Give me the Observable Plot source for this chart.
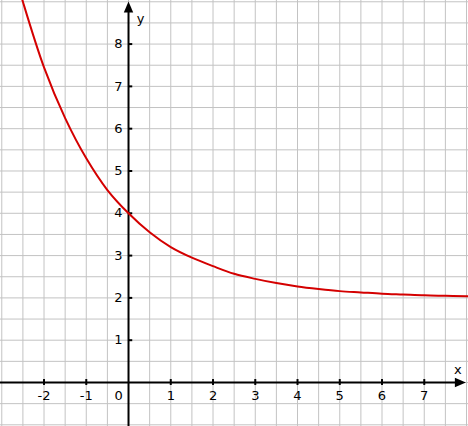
<!DOCTYPE html>
<html><head><meta charset="utf-8">
<script src="https://cdn.jsdelivr.net/npm/d3@7"></script>
<script src="https://cdn.jsdelivr.net/npm/@observablehq/plot@0.6"></script>
<style>html,body{margin:0;padding:0;background:#fff;overflow:hidden} svg{display:block}</style>
</head><body><div id="chart"></div>
<script>
// Curve values
const curveX = [-2.6, -2.5, -2, -1.5, -1, -0.5, 0, 0.5, 1, 1.5, 2, 2.5, 3, 3.5, 4, 4.5, 5, 5.5, 6, 6.5, 7, 7.5, 8, 8.1];
const curveY = [9.35, 9.0, 7.45, 6.25, 5.3, 4.55, 4.0, 3.55, 3.2, 2.95, 2.75, 2.57, 2.45, 2.35, 2.27, 2.21, 2.16, 2.13, 2.1, 2.08, 2.06, 2.05, 2.04, 2.04];
const xTickValues = [-2, -1, 1, 2, 3, 4, 5, 6, 7];
const yTickValues = [1, 2, 3, 4, 5, 6, 7, 8];
const gridXValues = [-3, -2.5, -2, -1.5, -1, -0.5, 0, 0.5, 1, 1.5, 2, 2.5, 3, 3.5, 4, 4.5, 5, 5.5, 6, 6.5, 7, 7.5, 8];
const gridYValues = [-1, -0.5, 0, 0.5, 1, 1.5, 2, 2.5, 3, 3.5, 4, 4.5, 5, 5.5, 6, 6.5, 7, 7.5, 8, 8.5, 9];
const xDomain = [-3.03, 8.047];
const yDomain = [-1.04, 9.03];
const xAxisEnd = 7.985;
const yAxisEnd = 9.005;

const curve = curveX.map((x, i) => ({x, y: curveY[i]}));

const arrowHead = {
  draw(ctx) {
    ctx.moveTo(0, 0);
    ctx.lineTo(-11, -4.7);
    ctx.lineTo(-11, 4.7);
    ctx.closePath();
  }
};

const font = "DejaVu Sans, Verdana, sans-serif";

const chart = Plot.plot({
  width: 468,
  height: 426,
  margin: 0,
  x: {domain: xDomain, axis: null},
  y: {domain: yDomain, axis: null},
  style: {background: "#fff", fontFamily: font},
  marks: [
    Plot.ruleX(gridXValues, {x: d => d, stroke: "#c3c3c3", strokeWidth: 1}),
    Plot.ruleY(gridYValues, {y: d => d, stroke: "#c3c3c3", strokeWidth: 1}),
    Plot.ruleY([0], {y: d => d, x1: xDomain[0], x2: xAxisEnd - 0.1, stroke: "#000", strokeWidth: 2}),
    Plot.ruleX([0], {x: d => d, y1: yDomain[0], y2: yAxisEnd - 0.1, stroke: "#000", strokeWidth: 2}),
    Plot.ruleX(xTickValues, {x: d => d, y1: -0.07, y2: 0.07, stroke: "#000", strokeWidth: 2}),
    Plot.ruleY(yTickValues, {y: d => d, x1: 0, x2: 0.1, stroke: "#000", strokeWidth: 2}),
    Plot.dot([{x: xAxisEnd, y: 0}], {x: "x", y: "y", symbol: arrowHead, fill: "#000", stroke: null, r: 5}),
    Plot.dot([{x: 0, y: yAxisEnd}], {x: "x", y: "y", symbol: arrowHead, fill: "#000", stroke: null, r: 5, rotate: -90}),
    Plot.text(xTickValues, {x: d => d, y: 0, text: d => String(d), dy: 13, fontSize: 13, fill: "#000", textAnchor: "middle"}),
    Plot.text(["0"], {x: 0, y: 0, text: d => d, dx: -10, dy: 13, fontSize: 13, fill: "#000", textAnchor: "middle"}),
    Plot.text(yTickValues, {x: 0, y: d => d, text: d => String(d), dx: -6, fontSize: 13, fill: "#000", textAnchor: "end"}),
    Plot.text(["x"], {x: xAxisEnd, y: 0, text: d => d, dx: -8, dy: -13, fontSize: 13, fill: "#000", textAnchor: "middle"}),
    Plot.text(["y"], {x: 0, y: yAxisEnd, text: d => d, dx: 12, dy: 17, fontSize: 13, fill: "#000", textAnchor: "middle"}),
    Plot.line(curve, {x: "x", y: "y", curve: "catmull-rom", stroke: "#d40000", strokeWidth: 2, clip: true})
  ]
});
document.getElementById("chart").appendChild(chart);
</script>
</body></html>
